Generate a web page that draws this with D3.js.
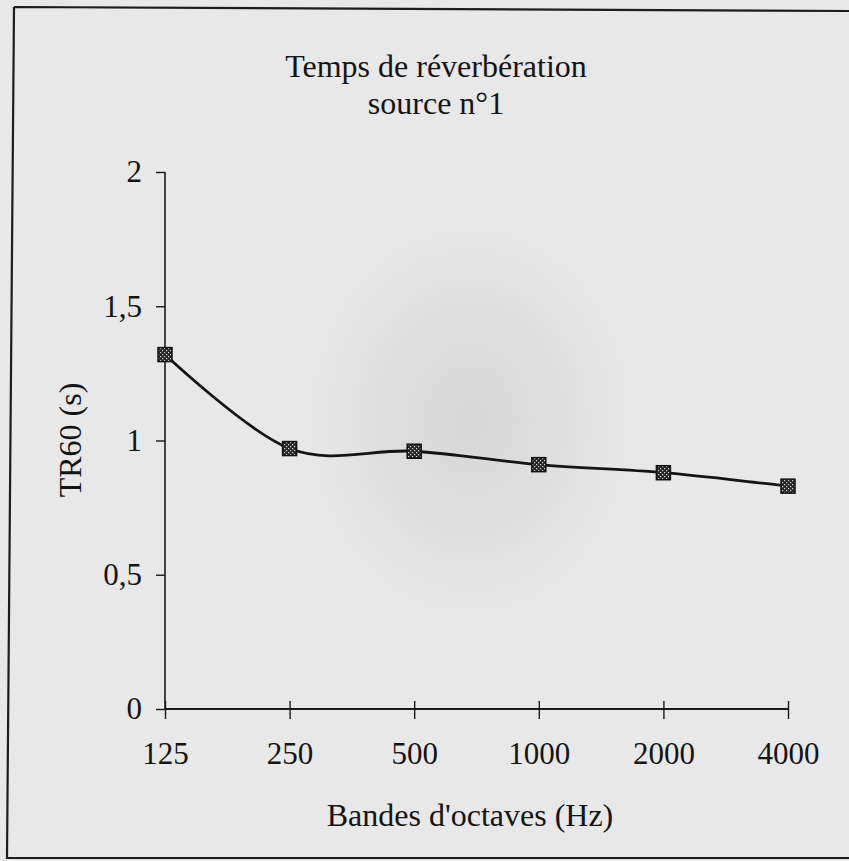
<!DOCTYPE html>
<html>
<head>
<meta charset="utf-8">
<script src="https://cdn.jsdelivr.net/npm/d3@7"></script>
<style>
  html, body { margin: 0; padding: 0; background: #e8e8e9; }
  svg { display: block; }
  text { font-family: "Liberation Serif", "Times New Roman", serif; fill: #141414; }
</style>
</head>
<body>
<svg id="chart" width="849" height="861"></svg>
<script>
// Octave bands (Hz) and measured reverberation time TR60 (s)
const bands = ["125", "250", "500", "1000", "2000", "4000"];
const tr60 = [1.32, 0.97, 0.96, 0.91, 0.88, 0.83];
const yTicks = [0, 0.5, 1, 1.5, 2];
const titleLines = ["Temps de réverbération", "source n°1"];
const xTitle = "Bandes d'octaves (Hz)";
const yTitle = "TR60 (s)";

const svg = d3.select("#chart");
const W = 849, H = 861;

// Paper background with the soft grey stain in the middle
const defs = svg.append("defs");
const rg = defs.append("radialGradient").attr("id", "stain")
  .attr("cx", "0.5").attr("cy", "0.5").attr("r", "0.5");
rg.append("stop").attr("offset", "0").attr("stop-color", "#c4c4c4").attr("stop-opacity", 0.5);
rg.append("stop").attr("offset", "0.55").attr("stop-color", "#cdcdcd").attr("stop-opacity", 0.3);
rg.append("stop").attr("offset", "1").attr("stop-color", "#e8e8e9").attr("stop-opacity", 0);

// Speckled fill for the square markers
const pat = defs.append("pattern").attr("id", "speck")
  .attr("patternUnits", "userSpaceOnUse").attr("width", 4).attr("height", 4);
pat.append("rect").attr("width", 4).attr("height", 4).attr("fill", "#262626");
pat.append("rect").attr("x", 0).attr("y", 0).attr("width", 1.2).attr("height", 1.2).attr("fill", "#d8d8d8");
pat.append("rect").attr("x", 2).attr("y", 2).attr("width", 1.2).attr("height", 1.2).attr("fill", "#d8d8d8");

svg.append("rect").attr("width", W).attr("height", H).attr("fill", "#e8e8e9");
svg.append("ellipse").attr("cx", 470).attr("cy", 420).attr("rx", 190).attr("ry", 230)
  .attr("fill", "url(#stain)");

// Frame around the figure
svg.append("path")
  .attr("d", "M14,7 L852,11 M14,7 L7,858 L852,858")
  .attr("fill", "none").attr("stroke", "#1c1c1c").attr("stroke-width", 2.2);

// Scales
const x = d3.scalePoint().domain(bands).range([165, 788]);
const y = d3.scaleLinear().domain([0, 2]).range([709, 172]);

// Y axis
const yAxis = svg.append("g").attr("transform", `translate(${x(bands[0])},0)`)
  .call(d3.axisLeft(y).tickValues(yTicks).tickSize(9).tickPadding(14)
    .tickFormat(d => d3.format("")(d).replace(".", ",")));
yAxis.select(".domain").attr("d", `M0,${y(2)}V${y(0)}`).attr("stroke", "#1a1a1a").attr("stroke-width", 1.6);
yAxis.selectAll(".tick line").attr("stroke", "#1a1a1a").attr("stroke-width", 1.4);
yAxis.selectAll(".tick text").attr("font-size", 31)
  .attr("font-family", "Liberation Serif, Times New Roman, serif").attr("fill", "#141414");

// X axis with ticks crossing the line
const xAxis = svg.append("g").attr("transform", `translate(0,${y(0)})`)
  .call(d3.axisBottom(x).tickSize(10).tickPadding(23));
xAxis.select(".domain").attr("d", `M${x(bands[0])},0H${x(bands[bands.length - 1])}`)
  .attr("stroke", "#1a1a1a").attr("stroke-width", 1.8);
xAxis.selectAll(".tick line").attr("y1", -8).attr("y2", 10)
  .attr("stroke", "#1a1a1a").attr("stroke-width", 1.4);
xAxis.selectAll(".tick text").attr("font-size", 31)
  .attr("font-family", "Liberation Serif, Times New Roman, serif").attr("fill", "#141414");

// Titles
svg.append("text").attr("x", 436).attr("y", 77).attr("text-anchor", "middle")
  .attr("font-size", 32).text(titleLines[0]);
svg.append("text").attr("x", 436).attr("y", 114).attr("text-anchor", "middle")
  .attr("font-size", 32).text(titleLines[1]);
svg.append("text").attr("x", 470).attr("y", 826).attr("text-anchor", "middle")
  .attr("font-size", 32).text(xTitle);
svg.append("text").attr("transform", "translate(81,440) rotate(-90)")
  .attr("text-anchor", "middle").attr("font-size", 32).text(yTitle);

// Smoothed curve
const data = bands.map((b, i) => ({ b, v: tr60[i] }));
const line = d3.line().x(d => x(d.b)).y(d => y(d.v)).curve(d3.curveCatmullRom.alpha(0));
svg.append("path").datum(data).attr("d", line)
  .attr("fill", "none").attr("stroke", "#141414").attr("stroke-width", 2.8);

// Square markers
const ms = 14;
svg.selectAll("rect.marker").data(data).enter().append("rect")
  .attr("class", "marker")
  .attr("x", d => x(d.b) - ms / 2).attr("y", d => y(d.v) - ms / 2)
  .attr("width", ms).attr("height", ms)
  .attr("fill", "url(#speck)").attr("stroke", "#111").attr("stroke-width", 1.5);
</script>
</body>
</html>
